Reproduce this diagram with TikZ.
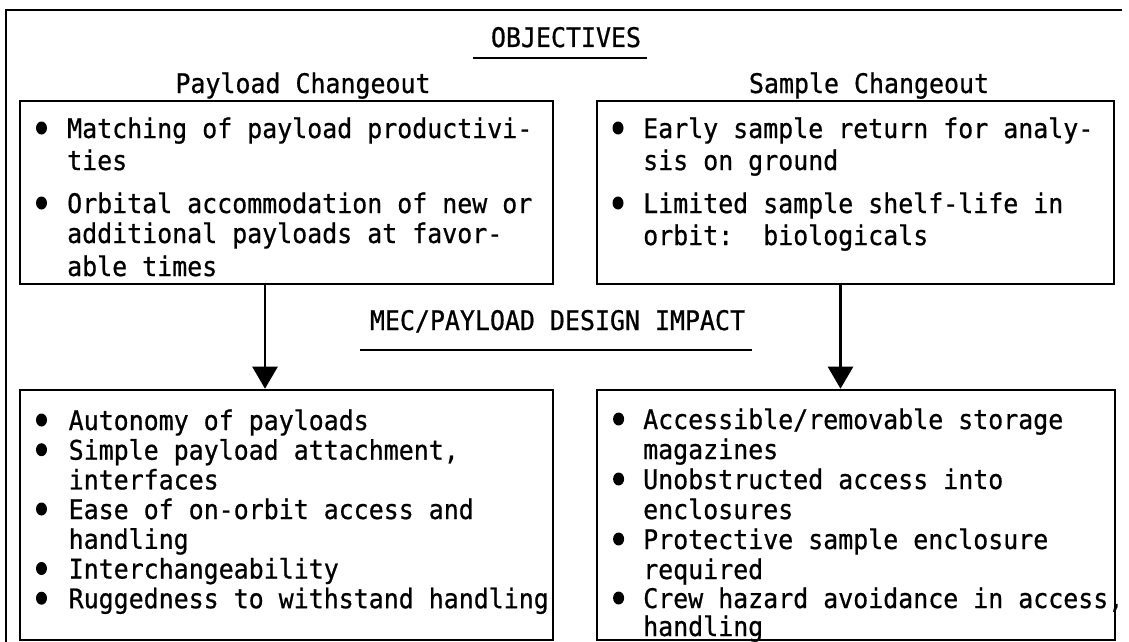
\documentclass[tikz,border=0pt]{standalone}
\usepackage{fontspec}
\newfontfamily\tw[FakeStretch=0.923,FakeBold=0.7]{DejaVu Sans Mono}
\usetikzlibrary{arrows.meta}
\begin{document}
\begin{tikzpicture}[x=1pt,y=-1pt,
  box/.style={draw, line width=2.6pt, inner sep=0pt},
  txt/.style={anchor=base west, inner sep=0pt, font=\tw\fontsize{27}{30}\selectfont},
  ttl/.style={anchor=base, inner sep=0pt, font=\tw\fontsize{27}{30}\selectfont},
  uline/.style={line width=2.8pt},
  frame/.style={line width=2.4pt},
  arr/.style={line width=2.6pt, -{Triangle[width=25pt,length=22pt]}}]
\useasboundingbox (0,0) rectangle (1129,642);
\newcommand{\bul}[2]{\fill (#1,#2) ellipse [x radius=5.5pt, y radius=6.5pt];}
% outer frame
\draw[frame] (6,642) -- (6,10) -- (1122,10);
% titles
\node[ttl] (obj) at (566,47) {OBJECTIVES};
\draw[uline] (473,58) -- (647,58);
\node[ttl] (pch) at (303,93) {Payload Changeout};
\node[ttl] (sch) at (869,93) {Sample Changeout};
\node[ttl] (mec) at (557.5,330) {MEC/PAYLOAD DESIGN IMPACT};
\draw[uline] (360,350) -- (752,350);
% boxes
\node[box, minimum width=533pt, minimum height=183pt] (tlbox) at (286.5,192.5) {};
\node[box, minimum width=517pt, minimum height=183pt] (trbox) at (855.5,192.5) {};
\node[box, minimum width=533pt, minimum height=250pt] (blbox) at (286.5,515) {};
\node[box, minimum width=518pt, minimum height=250pt] (brbox) at (856,515) {};
% arrows
\coordinate (al) at (265,0);
\coordinate (ar) at (840.5,0);
\draw[arr] (tlbox.south -| al) -- (blbox.north -| al);
\draw[arr] (trbox.south -| ar) -- (brbox.north -| ar);
% top-left text
\bul{41.5}{128}
\node[txt] (tl1) at (67,138) {Matching of payload productivi-};
\node[txt] (tl2) at (67,170) {ties};
\bul{41.5}{203}
\node[txt] (tl3) at (67,213) {Orbital accommodation of new or};
\node[txt] (tl4) at (67,243) {additional payloads at favor-};
\node[txt] (tl5) at (67,276) {able times};
% top-right text
\bul{618}{128}
\node[txt] (tr1) at (643,138) {Early sample return for analy-};
\node[txt] (tr2) at (643,170) {sis on ground};
\bul{618}{203}
\node[txt] (tr3) at (643,213) {Limited sample shelf-life in};
\node[txt] (tr4) at (643,245) {orbit:\ \ biologicals};
% bottom-left text
\bul{41.5}{420}
\node[txt] (bl1) at (68.5,430) {Autonomy of payloads};
\bul{41.5}{449.7}
\node[txt] (bl2) at (68.5,459.7) {Simple payload attachment,};
\node[txt] (bl3) at (68.5,489.4) {interfaces};
\bul{41.5}{509}
\node[txt] (bl4) at (68.5,519) {Ease of on-orbit access and};
\node[txt] (bl5) at (68.5,548.8) {handling};
\bul{41.5}{568.5}
\node[txt] (bl6) at (68.5,578.5) {Interchangeability};
\bul{41.5}{598.2}
\node[txt] (bl7) at (68.5,608.2) {Ruggedness to withstand handling};
% bottom-right text
\bul{618.6}{419}
\node[txt] (br1) at (643,429) {Accessible/removable storage};
\node[txt] (br2) at (643,459) {magazines};
\bul{618.6}{479}
\node[txt] (br3) at (643,489) {Unobstructed access into};
\node[txt] (br4) at (643,519) {enclosures};
\bul{618.6}{539}
\node[txt] (br5) at (643,549) {Protective sample enclosure};
\node[txt] (br6) at (643,579) {required};
\bul{618.6}{598}
\node[txt] (br7) at (643,608) {Crew hazard avoidance in access,};
\node[txt] (br8) at (643,636) {handling};
\end{tikzpicture}
\end{document}
